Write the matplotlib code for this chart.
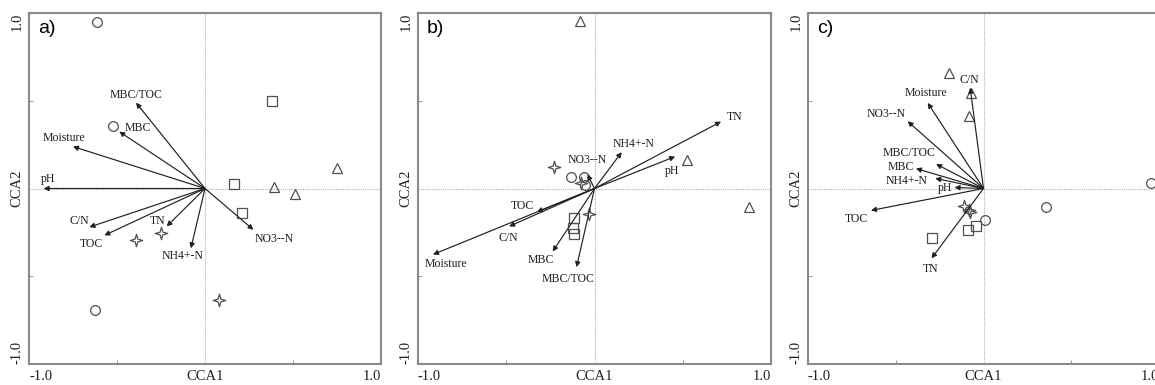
"""CCA biplots of soil variables for three sites (panels a-c)."""

import matplotlib.pyplot as plt
from matplotlib.path import Path

# ---- panel a ----
A_VARS = ["pH", "Moisture", "MBC", "MBC/TOC", "C/N", "TOC", "TN", "NH4+-N", "NO3--N"]
A_ARROW_X = [-0.917, -0.75, -0.487, -0.392, -0.657, -0.572, -0.218, -0.080, 0.275]
A_ARROW_Y = [0.0, 0.239, 0.324, 0.489, -0.220, -0.267, -0.216, -0.341, -0.235]
A_CIRCLE_X = [-0.614, -0.523, -0.625]
A_CIRCLE_Y = [0.949, 0.356, -0.693]
A_SQUARE_X = [0.379, 0.163, 0.212]
A_SQUARE_Y = [0.500, 0.025, -0.140]
A_TRIANGLE_X = [0.748, 0.390, 0.511]
A_TRIANGLE_Y = [0.116, 0.011, -0.030]
A_STAR_X = [-0.392, -0.250, 0.081]
A_STAR_Y = [-0.295, -0.254, -0.633]

# ---- panel b ----
B_VARS = ["TN", "pH", "NH4+-N", "NO3--N", "TOC", "C/N", "Moisture", "MBC", "MBC/TOC"]
B_ARROW_X = [0.717, 0.457, 0.154, -0.040, -0.326, -0.484, -0.915, -0.237, -0.102]
B_ARROW_Y = [0.381, 0.182, 0.207, 0.080, -0.133, -0.216, -0.376, -0.359, -0.448]
B_CIRCLE_X = [-0.133, -0.061, -0.051]
B_CIRCLE_Y = [0.068, 0.068, 0.021]
B_SQUARE_X = [-0.118, -0.123, -0.114]
B_SQUARE_Y = [-0.169, -0.226, -0.260]
B_TRIANGLE_X = [-0.080, 0.522, 0.878]
B_TRIANGLE_Y = [0.956, 0.163, -0.108]
B_STAR_X = [-0.228, -0.076, -0.032]
B_STAR_Y = [0.125, 0.031, -0.144]

# ---- panel c ----
C_VARS = ["C/N", "Moisture", "NO3--N", "MBC/TOC", "MBC", "NH4+-N", "pH", "TOC", "TN"]
C_ARROW_X = [-0.076, -0.318, -0.432, -0.270, -0.385, -0.275, -0.165, -0.641, -0.296]
C_ARROW_Y = [0.574, 0.488, 0.383, 0.139, 0.114, 0.058, 0.006, -0.125, -0.398]
C_CIRCLE_X = [0.956, 0.354, 0.010]
C_CIRCLE_Y = [0.034, -0.106, -0.177]
C_SQUARE_X = [-0.295, -0.090, -0.042]
C_SQUARE_Y = [-0.280, -0.236, -0.213]
C_TRIANGLE_X = [-0.194, -0.070, -0.080]
C_TRIANGLE_Y = [0.659, 0.545, 0.415]
C_STAR_X = [-0.112, -0.085, -0.076]
C_STAR_Y = [-0.099, -0.120, -0.132]

# label centres for the arrow names (layout, in axis units)
A_LABEL_XY = [(-0.89, 0.055), (-0.80, 0.286), (-0.383, 0.347), (-0.392, 0.532),
              (-0.714, -0.188), (-0.648, -0.314), (-0.269, -0.186), (-0.127, -0.386),
              (0.394, -0.288)]
B_LABEL_XY = [(0.793, 0.406), (0.438, 0.097), (0.224, 0.254), (-0.04, 0.163),
              (-0.408, -0.102), (-0.488, -0.283), (-0.839, -0.429), (-0.304, -0.406),
              (-0.15, -0.516)]
C_LABEL_XY = [(-0.08, 0.617), (-0.327, 0.545), (-0.555, 0.426), (-0.422, 0.202),
              (-0.47, 0.125), (-0.441, 0.04), (-0.22, 0.0), (-0.726, -0.175),
              (-0.304, -0.46)]

SERIF = ["Liberation Serif", "DejaVu Serif"]
FRAME = "#8a8a8a"
MARK = "#505050"


def four_point_star():
    verts = [(0, 1), (0.22, 0.22), (1, 0), (0.22, -0.22), (0, -1),
             (-0.22, -0.22), (-1, 0), (-0.22, 0.22), (0, 1)]
    codes = [Path.MOVETO] + [Path.LINETO] * 7 + [Path.CLOSEPOLY]
    return Path(verts, codes)


STAR = four_point_star()


def draw_panel(ax, tag, names, ax_x, ax_y, label_xy, sites):
    ax.set_xlim(-1, 1)
    ax.set_ylim(-1, 1)
    ax.axhline(0, color="#b0b0b0", lw=0.8, ls=(0, (1, 1)), zorder=0)
    ax.axvline(0, color="#b0b0b0", lw=0.8, ls=(0, (1, 1)), zorder=0)

    for name, x, y, (lx, ly) in zip(names, ax_x, ax_y, label_xy):
        ax.annotate("", xy=(x, y), xytext=(0, 0),
                    arrowprops=dict(arrowstyle="-|>", color="#202020", lw=0.85,
                                    mutation_scale=7.5, shrinkA=0, shrinkB=0))
        ax.text(lx, ly, name, ha="center", va="center", fontsize=8.5,
                family=SERIF, color="#202020")

    for marker, size, xs, ys in sites:
        ax.plot(xs, ys, ls="none", marker=marker, ms=size, mfc="none",
                mec=MARK, mew=0.9, clip_on=False)

    ax.set_xticks([-1, 0, 1])
    xlabels = ax.set_xticklabels(["-1.0", "CCA1", "1.0"], family=SERIF, fontsize=10.5)
    xlabels[0].set_ha("left")
    xlabels[2].set_ha("right")
    ax.set_yticks([-1, 0, 1])
    ylabels = ax.set_yticklabels(["-1.0", "CCA2", "1.0"], family=SERIF, fontsize=10.5,
                                 rotation=90, va="center")
    ylabels[0].set_va("bottom")
    ylabels[2].set_va("top")
    ax.set_xticks([-0.5, 0.5], minor=True)
    ax.set_yticks([-0.5, 0.5], minor=True)
    ax.tick_params(which="both", direction="in", length=3, color=FRAME,
                   labelcolor="#202020", pad=4)
    ax.tick_params(axis="x", which="major", length=0)
    ax.tick_params(axis="y", which="major", length=0)
    for spine in ax.spines.values():
        spine.set_color(FRAME)
        spine.set_linewidth(1.5)
    ax.text(0.025, 0.98, tag, transform=ax.transAxes, ha="left", va="top",
            fontsize=14, family=["Liberation Sans", "DejaVu Sans"])


fig = plt.figure(figsize=(11.55, 3.85), dpi=100)
ax_a = fig.add_axes([29 / 1155, 21 / 385, 352 / 1155, 351 / 385])
ax_b = fig.add_axes([418 / 1155, 21 / 385, 353 / 1155, 351 / 385])
ax_c = fig.add_axes([808 / 1155, 21 / 385, 351 / 1155, 351 / 385])

draw_panel(ax_a, "a)", A_VARS, A_ARROW_X, A_ARROW_Y, A_LABEL_XY,
           [("o", 7, A_CIRCLE_X, A_CIRCLE_Y), ("s", 6.5, A_SQUARE_X, A_SQUARE_Y),
            ("^", 7.5, A_TRIANGLE_X, A_TRIANGLE_Y), (STAR, 9, A_STAR_X, A_STAR_Y)])
draw_panel(ax_b, "b)", B_VARS, B_ARROW_X, B_ARROW_Y, B_LABEL_XY,
           [("o", 7, B_CIRCLE_X, B_CIRCLE_Y), ("s", 6.5, B_SQUARE_X, B_SQUARE_Y),
            ("^", 7.5, B_TRIANGLE_X, B_TRIANGLE_Y), (STAR, 9, B_STAR_X, B_STAR_Y)])
draw_panel(ax_c, "c)", C_VARS, C_ARROW_X, C_ARROW_Y, C_LABEL_XY,
           [("o", 7, C_CIRCLE_X, C_CIRCLE_Y), ("s", 6.5, C_SQUARE_X, C_SQUARE_Y),
            ("^", 7.5, C_TRIANGLE_X, C_TRIANGLE_Y), (STAR, 9, C_STAR_X, C_STAR_Y)])

fig.savefig("out.png", dpi=100)
